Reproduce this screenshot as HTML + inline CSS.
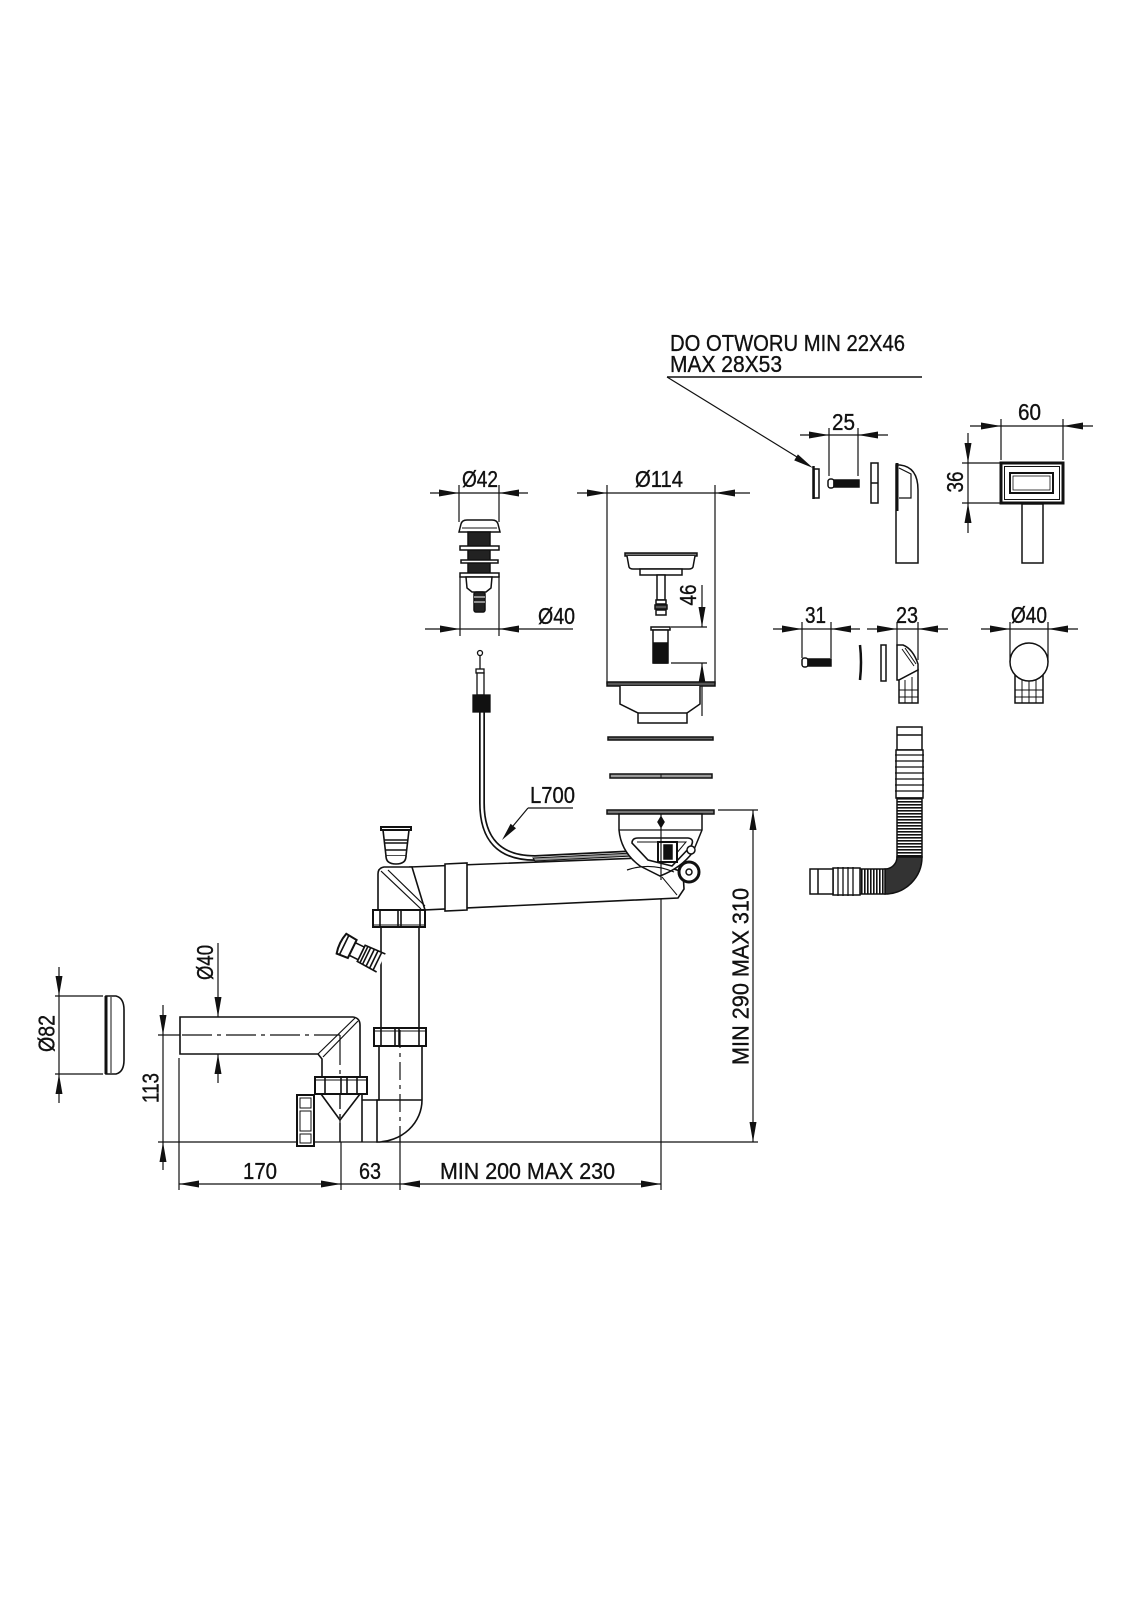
<!DOCTYPE html>
<html>
<head>
<meta charset="utf-8">
<style>
html,body{margin:0;padding:0;background:#fff;}
svg{display:block;}
text{font-family:"Liberation Sans Narrow","Liberation Sans",sans-serif;font-size:23px;fill:#111;stroke:#111;stroke-width:0.35;}
</style>
</head>
<body>
<svg width="1131" height="1600" viewBox="0 0 1131 1600" xmlns="http://www.w3.org/2000/svg">
<defs>
<pattern id="hstr" width="4" height="3" patternUnits="userSpaceOnUse">
<rect width="4" height="3" fill="#fff"/><rect width="4" height="1.6" fill="#111"/>
</pattern>
<pattern id="vstr" width="3" height="4" patternUnits="userSpaceOnUse">
<rect width="3" height="4" fill="#fff"/><rect width="1.6" height="4" fill="#111"/>
</pattern>
</defs>
<rect width="1131" height="1600" fill="#fff"/>

<g stroke="#111" stroke-width="1.2" fill="none">
<!-- ===== Overflow label ===== -->
<line x1="667" y1="377" x2="922" y2="377" stroke-width="1.6"/>
<line x1="667" y1="377" x2="797" y2="457"/>

<!-- dim 25 -->
<line x1="800" y1="435" x2="888" y2="435"/>
<line x1="829" y1="428" x2="829" y2="476"/>
<line x1="858" y1="428" x2="858" y2="476"/>
<!-- dim 60 -->
<line x1="970" y1="426" x2="1093" y2="426"/>
<line x1="1001" y1="419" x2="1001" y2="460"/>
<line x1="1063" y1="419" x2="1063" y2="460"/>
<!-- dim 36 -->
<line x1="968" y1="433" x2="968" y2="533"/>
<line x1="962" y1="463" x2="1001" y2="463"/>
<line x1="962" y1="503" x2="1001" y2="503"/>

<!-- dim Ø42 -->
<line x1="430" y1="493" x2="528" y2="493"/>
<line x1="459" y1="485" x2="459" y2="522"/>
<line x1="499" y1="485" x2="499" y2="522"/>
<!-- dim Ø114 -->
<line x1="577" y1="493" x2="750" y2="493"/>
<line x1="607" y1="485" x2="607" y2="684"/>
<line x1="715" y1="485" x2="715" y2="684"/>
<!-- dim Ø40 top -->
<line x1="425" y1="629" x2="573" y2="629"/>
<line x1="460" y1="576" x2="460" y2="636"/>
<line x1="499" y1="576" x2="499" y2="636"/>
<!-- dim 46 -->
<line x1="702" y1="585" x2="702" y2="627"/>
<line x1="702" y1="663" x2="702" y2="716"/>
<line x1="671" y1="627" x2="707" y2="627"/>
<line x1="671" y1="663" x2="707" y2="663"/>

<!-- dim 31 / 23 / Ø40 right -->
<line x1="773" y1="629" x2="860" y2="629"/>
<line x1="802" y1="622" x2="802" y2="658"/>
<line x1="831" y1="622" x2="831" y2="658"/>
<line x1="867" y1="629" x2="948" y2="629"/>
<line x1="897" y1="622" x2="897" y2="646"/>
<line x1="918" y1="622" x2="918" y2="660"/>
<line x1="981" y1="629" x2="1078" y2="629"/>
<line x1="1010" y1="622" x2="1010" y2="662"/>
<line x1="1048" y1="622" x2="1048" y2="662"/>

<!-- MIN 290 MAX 310 -->
<line x1="753" y1="810" x2="753" y2="1142"/>
<line x1="718" y1="810" x2="758" y2="810"/>
<!-- base line -->
<line x1="158" y1="1142" x2="758" y2="1142"/>
<!-- strainer centre line -->
<line x1="661" y1="814" x2="661" y2="1190"/>

<!-- Ø40 left -->
<line x1="218" y1="943" x2="218" y2="1083"/>
<!-- 113 -->
<line x1="163" y1="1005" x2="163" y2="1170"/>
<line x1="158" y1="1035" x2="182" y2="1035"/>
<line x1="182" y1="1035" x2="340" y2="1035" stroke-dasharray="30,5,4,5"/>
<line x1="340" y1="1035" x2="340" y2="1142" stroke-dasharray="30,5,4,5"/>
<line x1="341" y1="1142" x2="341" y2="1190"/>
<!-- Ø82 -->
<line x1="59" y1="967" x2="59" y2="1103"/>
<line x1="55" y1="996" x2="103" y2="996"/>
<line x1="55" y1="1074" x2="103" y2="1074"/>

<!-- bottom dims -->
<line x1="179" y1="1184" x2="661" y2="1184"/>
<line x1="179" y1="1058" x2="179" y2="1190"/>
<line x1="400" y1="1030" x2="400" y2="1142" stroke-dasharray="18,5,4,5"/>
<line x1="400" y1="1142" x2="400" y2="1190"/>

<!-- L700 leader -->
<line x1="528" y1="808" x2="573" y2="808"/>
<line x1="528" y1="808" x2="513" y2="826"/>
</g>

<!-- arrowheads -->
<g fill="#111" stroke="none">
<polygon points="813,468 794.2,460.4 797.9,454.4"/>
<polygon points="829,435 809,431.5 809,438.5"/><polygon points="858,435 878,431.5 878,438.5"/>
<polygon points="1001,426 981,422.5 981,429.5"/><polygon points="1063,426 1083,422.5 1083,429.5"/>
<polygon points="968,463 964.5,443 971.5,443"/><polygon points="968,503 964.5,523 971.5,523"/>
<polygon points="459,493 439,489.5 439,496.5"/><polygon points="499,493 519,489.5 519,496.5"/>
<polygon points="607,493 587,489.5 587,496.5"/><polygon points="715,493 735,489.5 735,496.5"/>
<polygon points="460,629 440,625.5 440,632.5"/><polygon points="499,629 519,625.5 519,632.5"/>
<polygon points="702,627 698.5,607 705.5,607"/><polygon points="702,663 698.5,683 705.5,683"/>
<polygon points="802,629 782,625.5 782,632.5"/><polygon points="831,629 851,625.5 851,632.5"/>
<polygon points="897,629 877,625.5 877,632.5"/><polygon points="918,629 938,625.5 938,632.5"/>
<polygon points="1010,629 990,625.5 990,632.5"/><polygon points="1048,629 1068,625.5 1068,632.5"/>
<polygon points="753,810 749.5,830 756.5,830"/><polygon points="753,1142 749.5,1122 756.5,1122"/>
<polygon points="218,1017 214.5,997 221.5,997"/><polygon points="218,1054 214.5,1074 221.5,1074"/>
<polygon points="163,1035 159.5,1015 166.5,1015"/><polygon points="163,1142 159.5,1162 166.5,1162"/>
<polygon points="59,996 55.5,976 62.5,976"/><polygon points="59,1074 55.5,1094 62.5,1094"/>
<polygon points="179,1184 199,1180.5 199,1187.5"/><polygon points="341,1184 321,1180.5 321,1187.5"/>
<polygon points="400,1184 420,1180.5 420,1187.5"/><polygon points="661,1184 641,1180.5 641,1187.5"/>
<polygon points="502,840 516,828.2 510.6,823.8"/>
</g>

<!-- ===== labels ===== -->
<text x="670" y="351" textLength="235" lengthAdjust="spacingAndGlyphs" font-size="24">DO OTWORU MIN 22X46</text>
<text x="670" y="372" textLength="112" lengthAdjust="spacingAndGlyphs" font-size="23">MAX 28X53</text>
<text x="843.5" y="430" text-anchor="middle" textLength="23" lengthAdjust="spacingAndGlyphs">25</text>
<text x="1029.5" y="420" text-anchor="middle" textLength="23" lengthAdjust="spacingAndGlyphs">60</text>
<text transform="translate(955,482) rotate(-90)" x="0" y="8" text-anchor="middle" textLength="21" lengthAdjust="spacingAndGlyphs">36</text>
<text x="480" y="487" text-anchor="middle" textLength="36" lengthAdjust="spacingAndGlyphs">Ø42</text>
<text x="659" y="487" text-anchor="middle" textLength="48" lengthAdjust="spacingAndGlyphs">Ø114</text>
<text x="556.5" y="624" text-anchor="middle" textLength="37" lengthAdjust="spacingAndGlyphs">Ø40</text>
<text transform="translate(688,595) rotate(-90)" x="0" y="8" text-anchor="middle" textLength="21" lengthAdjust="spacingAndGlyphs">46</text>
<text x="815.5" y="623" text-anchor="middle" textLength="21" lengthAdjust="spacingAndGlyphs">31</text>
<text x="907" y="623" text-anchor="middle" textLength="22" lengthAdjust="spacingAndGlyphs">23</text>
<text x="1029" y="623" text-anchor="middle" textLength="36" lengthAdjust="spacingAndGlyphs">Ø40</text>
<text x="552.5" y="803" text-anchor="middle" textLength="45" lengthAdjust="spacingAndGlyphs">L700</text>
<text transform="translate(740,976.5) rotate(-90)" x="0" y="8.5" text-anchor="middle" textLength="177" lengthAdjust="spacingAndGlyphs">MIN 290 MAX 310</text>
<text transform="translate(204.5,962.5) rotate(-90)" x="0" y="8.5" text-anchor="middle" textLength="35" lengthAdjust="spacingAndGlyphs">Ø40</text>
<text transform="translate(150,1088) rotate(-90)" x="0" y="8.5" text-anchor="middle" textLength="30" lengthAdjust="spacingAndGlyphs">113</text>
<text transform="translate(46,1033.5) rotate(-90)" x="0" y="8.5" text-anchor="middle" textLength="37" lengthAdjust="spacingAndGlyphs">Ø82</text>
<text x="260" y="1179" text-anchor="middle" textLength="34" lengthAdjust="spacingAndGlyphs">170</text>
<text x="370" y="1179" text-anchor="middle" textLength="22" lengthAdjust="spacingAndGlyphs">63</text>
<text x="527.5" y="1179" text-anchor="middle" textLength="175" lengthAdjust="spacingAndGlyphs">MIN 200 MAX 230</text>

<!-- ===== Overflow parts row 1 ===== -->
<g stroke="#111" stroke-width="1.5" fill="#fff">
<rect x="814" y="469" width="5" height="29"/>
<line x1="813.5" y1="466" x2="813.5" y2="499" stroke-width="2.5"/>
<rect x="828" y="479" width="6" height="9" rx="2.5"/>
<rect x="834" y="480" width="25" height="7" fill="#111"/>
<rect x="871" y="463" width="7" height="40"/>
<line x1="871" y1="483" x2="878" y2="483"/>
<path d="M896,465 L896,563 L918,563 L918,490 Q918,467 900,465 Z"/>
<line x1="897" y1="463" x2="897" y2="511" stroke-width="3"/>
<path d="M899,468 L911,474 L911,498 L899,498" fill="none" stroke-width="1.2"/>
<rect x="1001" y="463" width="62" height="40" stroke-width="3"/>
<rect x="1004.5" y="466.5" width="55" height="33" stroke-width="1"/>
<rect x="1010" y="473" width="43" height="20" stroke-width="2"/>
<rect x="1013" y="476" width="37" height="14" stroke-width="0.8"/>
<rect x="1022" y="504" width="21" height="59"/>
</g>

<!-- ===== Overflow parts row 2 ===== -->
<g stroke="#111" stroke-width="1.5" fill="#fff">
<rect x="802" y="658" width="6" height="9" rx="2.5"/>
<rect x="808" y="659" width="23" height="7" fill="#111"/>
<path d="M860,645 Q862,662 860,680" stroke-width="2.5" fill="none"/>
<rect x="881" y="645" width="5" height="36"/>
<path d="M897,645 L903,645 Q913,649 918,664 L918,670 L899,680 L897,680 Z"/>
<path d="M902,649 L914,666" fill="none" stroke-width="1"/>
<path d="M905,648 L916,664" fill="none" stroke-width="1"/>
<path d="M899,680 L918,670 L918,703 L899,703 Z"/>
<line x1="899" y1="690" x2="918" y2="690" stroke-width="1"/>
<line x1="899" y1="697" x2="918" y2="697" stroke-width="1"/>
<line x1="905" y1="680" x2="905" y2="703" stroke-width="1"/>
<line x1="912" y1="677" x2="912" y2="703" stroke-width="1"/>
<path d="M1015,672 L1043,672 L1043,703 L1015,703 Z"/>
<line x1="1015" y1="690" x2="1043" y2="690" stroke-width="1"/>
<line x1="1015" y1="697" x2="1043" y2="697" stroke-width="1"/>
<line x1="1022" y1="676" x2="1022" y2="703" stroke-width="1"/>
<line x1="1029" y1="680" x2="1029" y2="703" stroke-width="1"/>
<line x1="1036" y1="676" x2="1036" y2="703" stroke-width="1"/>
<circle cx="1029" cy="662" r="19"/>
</g>

<!-- ===== Corrugated hose ===== -->
<g stroke="#111" stroke-width="1.5">
<rect x="897" y="727" width="25" height="23" fill="#fff"/>
<line x1="897" y1="735" x2="922" y2="735"/>
<rect x="896" y="750" width="27" height="48" fill="#fff"/>
<g stroke-width="1.3">
<line x1="895" y1="755" x2="924" y2="755"/><line x1="895" y1="761" x2="924" y2="761"/>
<line x1="895" y1="767" x2="924" y2="767"/><line x1="895" y1="773" x2="924" y2="773"/>
<line x1="895" y1="779" x2="924" y2="779"/><line x1="895" y1="785" x2="924" y2="785"/>
<line x1="895" y1="791" x2="924" y2="791"/>
</g>
<rect x="897" y="798" width="25" height="59" fill="url(#hstr)"/>
<path d="M897,857 L922,857 A37,37 0 0 1 885,894 L885,869 A12,12 0 0 0 897,857 Z" fill="#333"/>
<rect x="860" y="869" width="25" height="25" fill="url(#vstr)"/>
<rect x="833" y="868" width="27" height="27" fill="#fff"/>
<g stroke-width="1.3">
<line x1="838" y1="867" x2="838" y2="896"/><line x1="843" y1="867" x2="843" y2="896"/>
<line x1="848" y1="867" x2="848" y2="896"/><line x1="853" y1="867" x2="853" y2="896"/>
</g>
<rect x="810" y="869" width="23" height="25" fill="#fff"/>
<line x1="818" y1="869" x2="818" y2="894"/>
</g>

<!-- ===== Pop-up button ===== -->
<g stroke="#111" stroke-width="1.5" fill="#fff">
<path d="M459,532 L461,524 Q462,520 467,520 L492,520 Q497,520 498,524 L500,532 Z"/>
<line x1="462" y1="528" x2="497" y2="528" stroke-width="1"/>
<rect x="468" y="532" width="22" height="44" fill="#222"/>
<rect x="460" y="546" width="39" height="4"/>
<rect x="461" y="560" width="37" height="3"/>
<rect x="460" y="573" width="39" height="4"/>
<path d="M466,577 L492,577 L491,588 L486,592 L472,592 L467,588 Z"/>
<rect x="474" y="592" width="11" height="20" rx="2" fill="#222"/>
<line x1="474" y1="597" x2="485" y2="597" stroke="#fff" stroke-width="1"/>
<line x1="474" y1="602" x2="485" y2="602" stroke="#fff" stroke-width="1"/>
</g>

<!-- ===== Strainer insert ===== -->
<g stroke="#111" stroke-width="1.5" fill="#fff">
<rect x="625" y="553" width="72" height="3" fill="#777"/>
<path d="M627,556 L629,567 Q630,569 633,569 L689,569 Q692,569 693,567 L695,556"/>
<rect x="640" y="569" width="42" height="6"/>
<rect x="657" y="575" width="8" height="25"/>
<rect x="656" y="600" width="10" height="4"/>
<rect x="655" y="605" width="12" height="4" fill="#555"/>
<rect x="656" y="610" width="10" height="5"/>
<rect x="651" y="627" width="19" height="3"/>
<rect x="653" y="630" width="15" height="33"/>
<rect x="654" y="643" width="13" height="20" fill="#111"/>
</g>

<!-- flange & basket -->
<g stroke="#111" stroke-width="1.5" fill="#fff">
<rect x="607" y="682" width="108" height="4" fill="#555"/>
<path d="M620,686 L620,704 L638,713 L638,723 L687,723 L687,713 L700,704 L700,686"/>
<line x1="638" y1="713" x2="687" y2="713"/>
<rect x="608" y="737" width="105" height="3" fill="#666"/>
<rect x="610" y="774" width="102" height="4" fill="#999"/>
<line x1="661" y1="774" x2="661" y2="778" stroke-width="1"/>
</g>

<!-- ===== Trap horizontal pipe ===== -->
<g stroke="#111" stroke-width="1.6" fill="#fff">
<path d="M410,867 L640,858 L683,872 L684,889 L678,898 L423,910 Z"/>
<line x1="662" y1="877" x2="677" y2="895" stroke-width="1"/>
<path d="M445,864 L467,863 L467,910 L445,911 Z"/>
</g>

<!-- cable -->
<g fill="none">
<path d="M482,712 L482,803 Q482,858 535,858 L657,852" stroke="#111" stroke-width="6"/>
<path d="M482,712 L482,803 Q482,858 535,858 L657,852" stroke="#fff" stroke-width="2.6"/>
<path d="M533,858 L632,853 L632,856 L535,861 Z" fill="#999" stroke="#111" stroke-width="1"/>
</g>
<g stroke="#111" stroke-width="1.3" fill="#fff">
<circle cx="480" cy="653" r="2.5"/>
<line x1="480" y1="655" x2="480" y2="670"/>
<rect x="476" y="669" width="8" height="4"/>
<rect x="477" y="673" width="7" height="22"/>
<rect x="473" y="695" width="17" height="17" fill="#111"/>
</g>

<!-- ===== Lower strainer body ===== -->
<g stroke="#111" stroke-width="1.5" fill="#fff">
<rect x="607" y="810" width="107" height="4" fill="#777"/>
<path d="M619,814 L619,830 Q621,852 640,866 L660,876 Q681,868 693,852 L702,830 L702,814 Z"/>
<line x1="619" y1="830" x2="702" y2="830" stroke-width="1.2"/>
<polygon points="661,817 664,822 661,827 658,822" fill="#111"/>
<path d="M632,843 Q632,838 638,838 L688,838 Q695,839 691,846 L672,866 L648,860 Z" stroke-width="1.6"/>
<path d="M637,842 L686,842 L670,861" fill="none" stroke-width="1"/>
<rect x="658" y="842" width="19" height="20" stroke-width="2"/>
<rect x="664" y="845" width="8" height="14" fill="#111"/>
<circle cx="691" cy="850" r="4"/>
<path d="M627,870 Q650,862 674,872" fill="none" stroke-width="1.2"/>
<circle cx="689" cy="872" r="10" stroke-width="3"/>
<circle cx="689" cy="872" r="3"/>
<line x1="661" y1="814" x2="661" y2="880" stroke-width="1.2"/>
</g>

<!-- ===== Trap tee & vertical pipe ===== -->
<g stroke="#111" stroke-width="1.6" fill="#fff">
<path d="M378,910 L378,874 Q378,868 384,867 L412,867 L425,910 Z"/>
<line x1="381" y1="871" x2="421" y2="909" stroke-width="1.2"/>
<line x1="388" y1="870" x2="425" y2="906" stroke-width="1.2"/>
<path d="M383,830 L409,830 L406,856 L386,856 Z"/>
<rect x="381" y="827" width="30" height="3" stroke-width="2"/>
<line x1="384" y1="840" x2="408" y2="840"/><line x1="385" y1="843" x2="407" y2="843"/>
<line x1="385" y1="850" x2="407" y2="850"/>
<path d="M386,856 Q386,864 396,864 Q406,864 406,856"/>
<rect x="381" y="927" width="38" height="101"/>
<rect x="373" y="910" width="52" height="17" stroke-width="2"/>
<line x1="380" y1="910" x2="380" y2="927"/><line x1="398" y1="910" x2="398" y2="927"/>
<line x1="401" y1="910" x2="401" y2="927"/><line x1="420" y1="910" x2="420" y2="927"/>
<line x1="373" y1="925" x2="425" y2="925" stroke-width="1"/>
<!-- side inlet -->
<g transform="translate(381,963) rotate(26)">
<path d="M0,-10 L-22,-9 L-22,9 L0,10" />
<line x1="-4" y1="-9.5" x2="-4" y2="9.5"/><line x1="-8" y1="-9.3" x2="-8" y2="9.3"/>
<line x1="-12" y1="-9.2" x2="-12" y2="9.2"/><line x1="-16" y1="-9.1" x2="-16" y2="9.1"/>
<line x1="-19" y1="-9" x2="-19" y2="9"/>
<rect x="-32" y="-7" width="10" height="14"/>
<path d="M-32,-10 L-44,-11 Q-47,0 -44,11 L-32,10 Z" stroke-width="2"/>
<line x1="-41" y1="-10.5" x2="-41" y2="10.5"/>
</g>
<!-- lower pipe + nut2 -->
<path d="M379,1046 L379,1100 L377,1100 L377,1142 A45,42 0 0 0 422,1100 L422,1046 Z"/>
<line x1="362" y1="1100" x2="422" y2="1100"/>
<line x1="362" y1="1094" x2="362" y2="1142"/>
<rect x="374" y="1028" width="52" height="18" stroke-width="2"/>
<line x1="381" y1="1028" x2="381" y2="1046"/><line x1="395" y1="1028" x2="395" y2="1046"/>
<line x1="399" y1="1028" x2="399" y2="1046"/><line x1="419" y1="1028" x2="419" y2="1046"/>
<line x1="374" y1="1031" x2="426" y2="1031" stroke-width="1"/>
<line x1="400" y1="1030" x2="400" y2="1142" stroke-dasharray="18,5,4,5" stroke-width="1.2"/>
</g>

<!-- ===== Bottle trap ===== -->
<g stroke="#111" stroke-width="1.6" fill="#fff">
<path d="M180,1017 L353,1017 Q360,1018 360,1025 L360,1077 L322,1077 L322,1059 L318,1054 L180,1054 Z"/>
<line x1="318" y1="1054" x2="355" y2="1018" stroke-width="1.2"/>
<line x1="323" y1="1057" x2="358" y2="1021" stroke-width="1.2"/>
<line x1="182" y1="1035" x2="340" y2="1035" stroke-dasharray="30,5,4,5" stroke-width="1.2"/>
<line x1="340" y1="1035" x2="340" y2="1142" stroke-dasharray="30,5,4,5" stroke-width="1.2"/>
<rect x="315" y="1077" width="52" height="17" stroke-width="2"/>
<line x1="325" y1="1077" x2="325" y2="1094"/><line x1="341" y1="1077" x2="341" y2="1094"/>
<line x1="347" y1="1077" x2="347" y2="1094"/><line x1="357" y1="1077" x2="357" y2="1094"/>
<line x1="315" y1="1080" x2="367" y2="1080" stroke-width="1"/>
<polyline points="321,1094 340,1120 360,1094" fill="none"/>
<line x1="340" y1="1120" x2="340" y2="1142" stroke-width="1.2"/>
<rect x="297" y="1095" width="17" height="51" stroke-width="2"/>
<rect x="300" y="1098" width="11" height="10" stroke-width="1"/>
<rect x="300" y="1111" width="11" height="20" stroke-width="1"/>
<rect x="300" y="1134" width="11" height="9" stroke-width="1"/>
</g>

<!-- ===== Ø82 cap ===== -->
<g stroke="#111" fill="#fff">
<path d="M106,996 L116,996 Q124,998 124,1010 L124,1060 Q124,1072 116,1074 L106,1074 Z" stroke-width="1.6"/>
<line x1="106" y1="996" x2="106" y2="1074" stroke-width="3"/>
<line x1="111" y1="997" x2="111" y2="1073" stroke-width="1"/>
</g>
</svg>
</body>
</html>
